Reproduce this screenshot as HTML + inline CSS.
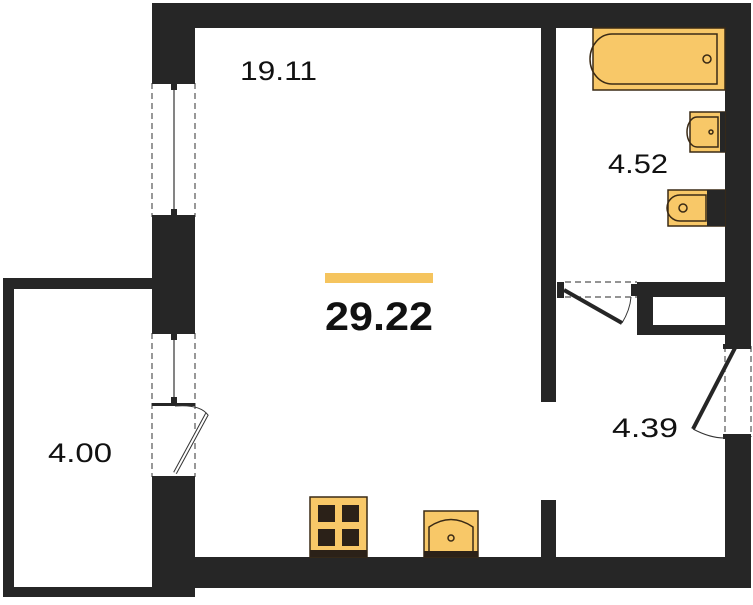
<!DOCTYPE html>
<html><head><meta charset="utf-8"><style>
body{margin:0;background:#fff;width:753px;height:600px;overflow:hidden}
svg text{font-family:"Liberation Sans",sans-serif;fill:#111}
</style></head><body>
<svg width="753" height="600" viewBox="0 0 753 600" xmlns="http://www.w3.org/2000/svg">
<g fill="#262626">
<rect x="3" y="278" width="152" height="11"/>
<rect x="3" y="278" width="11" height="319"/>
<rect x="3" y="587" width="152" height="10"/>
<rect x="152" y="3" width="599" height="25"/>
<rect x="152" y="3" width="43" height="80"/>
<rect x="152" y="217" width="43" height="116"/>
<rect x="152" y="477" width="43" height="120"/>
<rect x="152" y="557" width="599" height="31"/>
<rect x="725" y="3" width="26" height="343"/>
<rect x="725" y="437" width="26" height="151"/>
<rect x="541" y="28" width="15" height="374"/>
<rect x="541" y="500" width="15" height="57"/>
<rect x="637" y="282" width="88" height="15"/>
<rect x="637" y="282" width="16" height="53"/>
<rect x="637" y="325" width="88" height="10"/>
<rect x="557" y="282" width="7" height="16"/>
<rect x="631" y="284" width="6" height="12"/>
</g>
<g stroke="#555" stroke-width="1.2" fill="none" stroke-dasharray="6,4">
<line x1="152" y1="83" x2="152" y2="217"/><line x1="195" y1="83" x2="195" y2="217"/>
<line x1="152" y1="333" x2="152" y2="477"/><line x1="195" y1="333" x2="195" y2="477"/>
<line x1="565" y1="282" x2="637" y2="282"/><line x1="565" y1="297" x2="637" y2="297"/>
<line x1="725" y1="346" x2="725" y2="437"/><line x1="751" y1="346" x2="751" y2="437"/>
</g>
<g fill="#262626">
<rect x="152" y="81" width="43" height="3"/><rect x="152" y="215" width="43" height="3"/>
<rect x="152" y="331" width="43" height="3"/><rect x="152" y="403" width="43" height="3"/><rect x="152" y="476" width="43" height="3"/>
<rect x="171" y="84" width="6" height="6"/><rect x="171" y="209" width="6" height="6"/>
<rect x="171" y="334" width="6" height="6"/><rect x="171" y="397" width="6" height="6"/>
<rect x="723" y="344" width="28" height="5"/><rect x="723" y="434" width="28" height="5"/>
</g>
<line x1="174" y1="90" x2="174" y2="209" stroke="#333" stroke-width="1.2"/>
<line x1="174" y1="340" x2="174" y2="397" stroke="#333" stroke-width="1.2"/>
<line x1="175" y1="473" x2="207" y2="414" stroke="#333" stroke-width="4"/>
<line x1="175" y1="473" x2="207" y2="414" stroke="#fff" stroke-width="2"/>
<path d="M175 406 Q200 404 208 415" fill="none" stroke="#333" stroke-width="1"/>
<line x1="564" y1="290" x2="622" y2="323" stroke="#262626" stroke-width="4"/>
<path d="M622 323 Q630 310 631 297" fill="none" stroke="#333" stroke-width="1"/>
<line x1="735" y1="348" x2="693" y2="429" stroke="#262626" stroke-width="4"/>
<path d="M693 429 Q710 438 724 438" fill="none" stroke="#333" stroke-width="1"/>
<g stroke="#3a2a15" stroke-width="1.5" fill="#f8c868">
<rect x="593" y="28" width="132" height="62"/>
<path d="M612 34 H717 V84 H612 A22 25 0 0 1 612 34 Z" fill="none"/>
<circle cx="707" cy="59" r="4" fill="none"/>
<rect x="690" y="112" width="35" height="40"/>
<path d="M697 117 H718 V147 H697 A10 15 0 0 1 697 117Z" fill="none"/>
<circle cx="711" cy="132" r="2" fill="none"/>
<rect x="668" y="190" width="57" height="36"/>
<path d="M680 195 H706 V221 H680 A13 13 0 0 1 680 195Z" fill="none"/>
<circle cx="683" cy="208" r="4" fill="none"/>
<rect x="310" y="497" width="57" height="60"/>
<rect x="424" y="511" width="54" height="46"/>
<path d="M429 552 V527 Q451 512 473 527 V552 Z" fill="none"/>
<circle cx="451" cy="538" r="3" fill="none"/>
</g>
<rect x="707" y="190" width="18" height="36" fill="#262626"/>
<rect x="720" y="112" width="5" height="40" fill="#262626"/>
<g fill="#2b2118">
<rect x="318" y="505" width="17" height="17"/><rect x="342" y="505" width="17" height="17"/>
<rect x="318" y="529" width="17" height="17"/><rect x="342" y="529" width="17" height="17"/>
<rect x="310" y="550" width="57" height="7"/><rect x="424" y="551" width="54" height="6"/>
</g>
<rect x="325" y="273" width="108" height="10" fill="#f5c45e"/>
<text x="240" y="80" font-size="27" textLength="77" lengthAdjust="spacingAndGlyphs">19.11</text>
<text x="325" y="330" font-size="40" font-weight="bold" textLength="108" lengthAdjust="spacingAndGlyphs">29.22</text>
<text x="608" y="173" font-size="27" textLength="60" lengthAdjust="spacingAndGlyphs">4.52</text>
<text x="612" y="437" font-size="27" textLength="66" lengthAdjust="spacingAndGlyphs">4.39</text>
<text x="48" y="462" font-size="27" textLength="64" lengthAdjust="spacingAndGlyphs">4.00</text>
</svg>
</body></html>
